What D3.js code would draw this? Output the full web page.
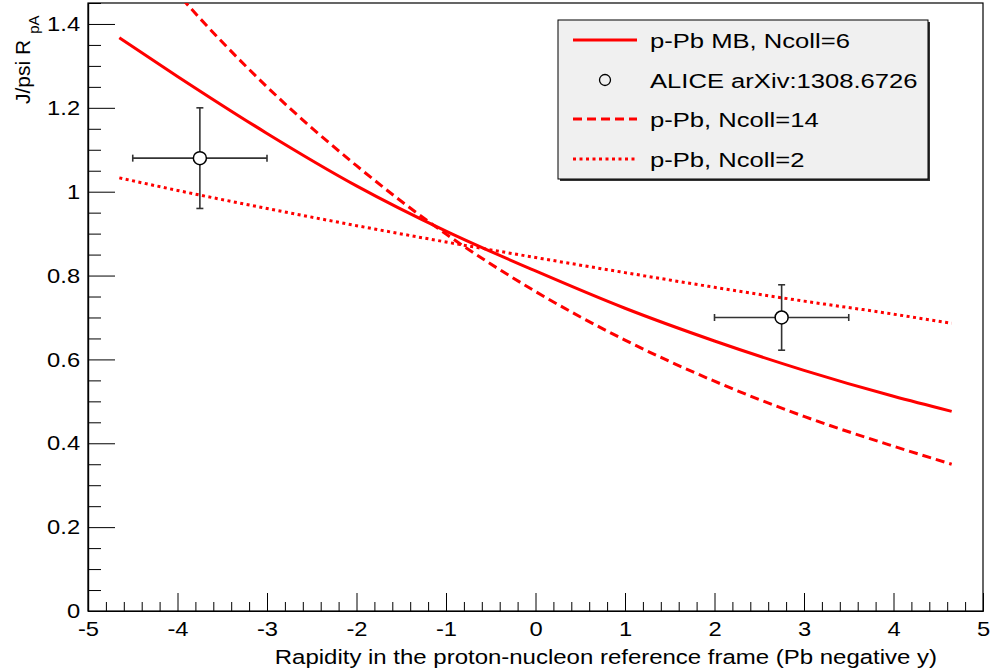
<!DOCTYPE html>
<html><head><meta charset="utf-8">
<script src="https://cdn.jsdelivr.net/npm/d3@7"></script>
<style>
html,body{margin:0;padding:0;background:#fff;}
text{font-family:"Liberation Sans",Arial,Helvetica,sans-serif;fill:#000;}
</style></head>
<body>
<svg id="c" width="991" height="671"></svg>
<script>
// ---- data ----
const rapidity = [-4.65, -4, -3, -2, -1, 0, 1, 2, 3, 4, 4.65];
const rpaMB6   = [1.367, 1.275, 1.139, 1.014, 0.906, 0.811, 0.722, 0.644, 0.574, 0.512, 0.476];
const rpaN14   = [1.64, 1.473, 1.250, 1.062, 0.899, 0.762, 0.646, 0.548, 0.464, 0.393, 0.350];
const rpaN2    = [1.033, 1.003, 0.960, 0.919, 0.880, 0.843, 0.807, 0.772, 0.739, 0.708, 0.686];
const aliceY   = [-3.75, 2.75];
const aliceR   = [1.08, 0.70];
const aliceXlo = [0.75, 0.75];
const aliceXhi = [0.75, 0.75];
const aliceElo = [0.12, 0.078];
const aliceEhi = [0.12, 0.078];
const xTickLabels = ["-5","-4","-3","-2","-1","0","1","2","3","4","5"];
const yTickLabels = ["0","0.2","0.4","0.6","0.8","1","1.2","1.4"];
const legendLabels = ["p-Pb MB, Ncoll=6","ALICE arXiv:1308.6726","p-Pb, Ncoll=14","p-Pb, Ncoll=2"];
const xTitle = "Rapidity in the proton-nucleon reference frame (Pb negative y)";

const SX = 1.13; // horizontal text stretch of the original picture
const svg = d3.select("#c");
const L = 88, R = 983, T = 3, B = 611;
const x = d3.scaleLinear().domain([-5, 5]).range([L, R]);
const y = d3.scaleLinear().domain([0, 1.45]).range([B, T]);

// clip
svg.append("defs").append("clipPath").attr("id","pa")
  .append("rect").attr("x",L).attr("y",T).attr("width",R-L).attr("height",B-T);

// frame
svg.append("rect").attr("x",L).attr("y",T).attr("width",R-L).attr("height",B-T)
  .attr("fill","none").attr("stroke","#000").attr("stroke-width",1.2);

// x axis
const xMajor = d3.range(-5, 5.001, 1);
const xMinor = d3.range(-5, 5.001, 0.2).filter(v => Math.abs(v - Math.round(v)) > 1e-6);
const gxm = svg.append("g").attr("transform",`translate(0,${B})`)
  .call(d3.axisBottom(x).tickValues(xMinor).tickFormat("").tickSizeInner(-9).tickSizeOuter(0));
const gx = svg.append("g").attr("transform",`translate(0,${B})`)
  .call(d3.axisBottom(x).tickValues(xMajor).tickFormat((d,i)=>xTickLabels[i]).tickSizeInner(-18).tickSizeOuter(0).tickPadding(10));
[gxm,gx].forEach(g=>{g.select(".domain").attr("stroke","#000").attr("stroke-width",1.2);
  g.selectAll(".tick line").attr("stroke","#000").attr("stroke-width",1);});
gx.selectAll(".tick text").attr("font-size",21).attr("fill","#000")
  .attr("font-family","Liberation Sans, Arial, sans-serif").attr("transform",`scale(${SX},1)`);

// y axis
const yMajor = d3.range(0, 1.401, 0.2);
const yMinor = d3.range(0, 1.451, 0.05).filter(v => Math.abs(v/0.2 - Math.round(v/0.2)) > 1e-6);
const gym = svg.append("g").attr("transform",`translate(${L},0)`)
  .call(d3.axisLeft(y).tickValues(yMinor).tickFormat("").tickSizeInner(-13).tickSizeOuter(0));
const gy = svg.append("g").attr("transform",`translate(${L},0)`)
  .call(d3.axisLeft(y).tickValues(yMajor).tickFormat((d,i)=>yTickLabels[i]).tickSizeInner(-27).tickSizeOuter(0).tickPadding(7));
[gym,gy].forEach(g=>{g.select(".domain").attr("stroke","#000").attr("stroke-width",1.2);
  g.selectAll(".tick line").attr("stroke","#000").attr("stroke-width",1);});
gy.selectAll(".tick text").attr("font-size",21).attr("fill","#000")
  .attr("font-family","Liberation Sans, Arial, sans-serif").attr("transform",`scale(${SX},1)`);

// titles
svg.append("text").attr("transform",`translate(937,664) scale(1.17,1)`)
  .attr("text-anchor","end").attr("font-size",20.5).text(xTitle);
const yt = svg.append("text").attr("transform","translate(30,104) rotate(-90)")
  .attr("text-anchor","start").attr("font-size",21);
yt.append("tspan").text("J/psi R");
yt.append("tspan").attr("dy",9).attr("dx",6).attr("font-size",15).text("pA");

// curves
const line = d3.line().x(d=>x(d[0])).y(d=>y(d[1])).curve(d3.curveMonotoneX);
const plot = svg.append("g").attr("clip-path","url(#pa)");
const curves = [
  {vals: rpaMB6, dash: null},
  {vals: rpaN14, dash: "9,5"},
  {vals: rpaN2,  dash: "3,3.5"}
];
curves.forEach(c=>{
  plot.append("path").datum(rapidity.map((v,i)=>[v,c.vals[i]]))
    .attr("d",line).attr("fill","none").attr("stroke","#ff0000")
    .attr("stroke-width",3).attr("stroke-dasharray",c.dash);
});

// data points with error bars
const ecol = "#333";
aliceY.forEach((xv,i)=>{
  const g = svg.append("g").attr("stroke",ecol).attr("stroke-width",1.6);
  const cx = x(xv), cy = y(aliceR[i]);
  const x0 = x(xv - aliceXlo[i]), x1 = x(xv + aliceXhi[i]);
  const y0 = y(aliceR[i] - aliceElo[i]), y1 = y(aliceR[i] + aliceEhi[i]);
  g.append("line").attr("x1",x0).attr("x2",x1).attr("y1",cy).attr("y2",cy);
  g.append("line").attr("x1",cx).attr("x2",cx).attr("y1",y0).attr("y2",y1);
  g.append("line").attr("x1",x0).attr("x2",x0).attr("y1",cy-3.5).attr("y2",cy+3.5);
  g.append("line").attr("x1",x1).attr("x2",x1).attr("y1",cy-3.5).attr("y2",cy+3.5);
  g.append("line").attr("x1",cx-3.5).attr("x2",cx+3.5).attr("y1",y0).attr("y2",y0);
  g.append("line").attr("x1",cx-3.5).attr("x2",cx+3.5).attr("y1",y1).attr("y2",y1);
  svg.append("circle").attr("cx",cx).attr("cy",cy).attr("r",6.5)
    .attr("fill","#fff").attr("stroke","#000").attr("stroke-width",1.5);
});

// legend
const lg = svg.append("g");
lg.append("rect").attr("x",560).attr("y",22).attr("width",370).attr("height",159).attr("fill","#333");
lg.append("rect").attr("x",558).attr("y",20).attr("width",370).attr("height",159)
  .attr("fill","#f0f0f0").attr("stroke","#000").attr("stroke-width",1);
const rows = [40, 80, 119, 159];
lg.append("line").attr("x1",573).attr("x2",637).attr("y1",rows[0]).attr("y2",rows[0]).attr("stroke","#ff0000").attr("stroke-width",3);
lg.append("circle").attr("cx",605).attr("cy",rows[1]).attr("r",5.5).attr("fill","none").attr("stroke","#000").attr("stroke-width",1.3);
lg.append("line").attr("x1",573).attr("x2",637).attr("y1",rows[2]).attr("y2",rows[2]).attr("stroke","#ff0000").attr("stroke-width",3).attr("stroke-dasharray","9,5");
lg.append("line").attr("x1",573).attr("x2",637).attr("y1",rows[3]).attr("y2",rows[3]).attr("stroke","#ff0000").attr("stroke-width",3).attr("stroke-dasharray","3,3.5");
legendLabels.forEach((t,i)=>{
  lg.append("text").attr("transform",`translate(650,${rows[i]+7.5}) scale(1.22,1)`)
    .attr("font-size",21).text(t);
});
</script>
</body></html>
